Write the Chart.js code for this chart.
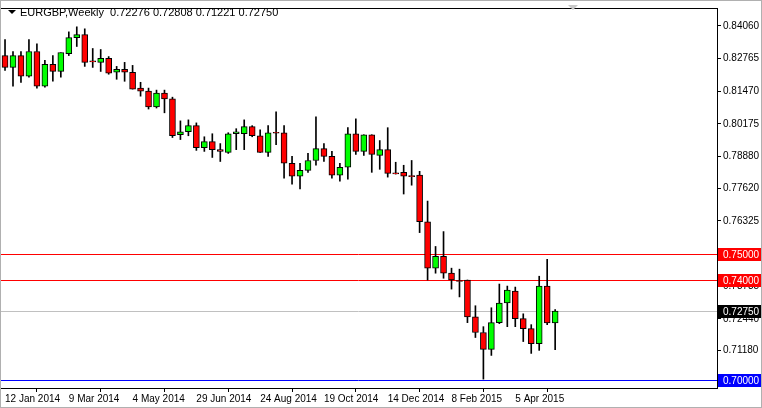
<!DOCTYPE html>
<html><head><meta charset="utf-8">
<script src="https://cdn.jsdelivr.net/npm/chart.js@4"></script>
<style>html,body{margin:0;padding:0;background:#fff}canvas{display:block}</style>
</head><body>
<canvas id="c" width="762" height="408"></canvas>
<script>
const opens  = [.8288,.8241,.8288,.8206,.8304,.8167,.8253,.8225,.8296,.8359,.8371,.8265,.8261,.8277,.8222,.8233,.8222,.8159,.8147,.8084,.8139,.8116,.7974,.7986,.8010,.7923,.7947,.7915,.7904,.7978,.7978,.8006,.7970,.7904,.7982,.7982,.7861,.7810,.7833,.7872,.7919,.7888,.7814,.7845,.7978,.7908,.7974,.7892,.7915,.7821,.7825,.7810,.7814,.7629,.7445,.7492,.7425,.7394,.7398,.7252,.7190,.7123,.7229,.7307,.7354,.7245,.7205,.7146,.7374,.72276];
const highs  = [.8351,.8304,.8304,.8351,.8335,.8269,.8288,.8300,.8382,.8402,.8394,.8316,.8312,.8284,.8245,.8261,.8249,.8182,.8159,.8151,.8151,.8123,.8029,.8033,.8021,.7966,.7978,.7939,.7982,.7998,.8033,.8010,.7994,.8010,.8065,.8010,.7888,.7861,.7900,.8045,.7939,.7908,.7861,.8002,.8037,.7974,.7974,.7951,.8002,.7865,.7853,.7872,.7829,.7711,.7531,.7590,.7445,.7441,.7398,.7296,.7213,.7288,.7382,.7374,.7370,.7264,.7221,.7413,.7480,.72808];
const lows   = [.8229,.8167,.8182,.8202,.8159,.8163,.8186,.8202,.8288,.8324,.8245,.8241,.8225,.8214,.8194,.8186,.8155,.8127,.8076,.8080,.8061,.7963,.7955,.7970,.7912,.7908,.7884,.7868,.7900,.7915,.7915,.7966,.7904,.7888,.7935,.7802,.7778,.7759,.7825,.7853,.7868,.7802,.7790,.7798,.7896,.7892,.7825,.7837,.7806,.7818,.7739,.7774,.7586,.7398,.7425,.7405,.7362,.7331,.7229,.7170,.7005,.7099,.7225,.7213,.7213,.7154,.7107,.7119,.7221,.71221];
const closes = [.8241,.8288,.8206,.8304,.8167,.8253,.8225,.8300,.8359,.8371,.8261,.8263,.8277,.8218,.8233,.8222,.8155,.8147,.8084,.8139,.8116,.7970,.7986,.8010,.7923,.7947,.7915,.7908,.7978,.7986,.8006,.7970,.7904,.7982,.7980,.7861,.7810,.7833,.7872,.7919,.7888,.7814,.7845,.7978,.7908,.7974,.7896,.7915,.7821,.7819,.7810,.7808,.7629,.7445,.7492,.7425,.7398,.7392,.7252,.7190,.7123,.7229,.7307,.7358,.7245,.7205,.7146,.7374,.7228,.72750];
const xLabels = ["12 Jan 2014","9 Mar 2014","4 May 2014","29 Jun 2014","24 Aug 2014","19 Oct 2014","14 Dec 2014","8 Feb 2015","5 Apr 2015"];
const yTicks = [0.84060,0.82765,0.81470,0.80175,0.78880,0.77620,0.76325,0.73735,0.72440,0.71180];
const levels = [{v:0.75,c:'#ff0000',box:'#ff0000'},{v:0.74,c:'#ff0000',box:'#ff0000'},{v:0.7275,c:'#c0c0c0',box:'#000000'},{v:0.70,c:'#0000ff',box:'#0000ff'}];
const title = "EURGBP,Weekly  0.72276 0.72808 0.71221 0.72750";
const FONT = '10px "Liberation Sans", Arial, sans-serif';

const bodies = opens.map((o,i)=>({x:i,y:[o,closes[i]]}));
const upperWicks = opens.map((o,i)=>({x:i,y:[Math.max(o,closes[i]),highs[i]]}));
const lowerWicks = opens.map((o,i)=>({x:i,y:[lows[i],Math.min(o,closes[i])]}));
const bodyColors = opens.map((o,i)=> closes[i]>=o ? '#00ff00' : '#ff0000');

const overlay = {
  id:'overlay',
  beforeDatasetsDraw(chart){
    const {ctx, chartArea:a, scales:{y}} = chart;
    ctx.save();
    levels.forEach(l=>{
      const py = Math.round(y.getPixelForValue(l.v))+0.5;
      ctx.strokeStyle=l.c; ctx.lineWidth=1;
      ctx.beginPath(); ctx.moveTo(a.left,py); ctx.lineTo(a.right,py); ctx.stroke();
    });
    ctx.restore();
  },
  afterDraw(chart){
    const {ctx, chartArea:a, scales:{y}} = chart;
    ctx.save();
    ctx.strokeStyle='#000'; ctx.lineWidth=1;
    ctx.strokeRect(a.left+0.5,a.top+0.5,a.right-a.left,a.bottom-a.top);
    ctx.font=FONT; ctx.textBaseline='middle';
    levels.forEach(l=>{
      const py = Math.round(y.getPixelForValue(l.v));
      ctx.fillStyle=l.box; ctx.fillRect(a.right+1,py-6,43,13);
      ctx.fillStyle='#fff'; ctx.textAlign='left';
      ctx.fillText(l.v.toFixed(5), a.right+6, py+1);
    });
    ctx.fillStyle='#000'; ctx.textAlign='left';
    ctx.beginPath(); ctx.moveTo(8,10); ctx.lineTo(16,10); ctx.lineTo(12,14); ctx.closePath(); ctx.fill();
    ctx.font='11px "Liberation Sans", Arial, sans-serif';
    ctx.fillText(title, 20, 13);
    ctx.fillStyle='#c8c8c8';
    ctx.beginPath(); ctx.moveTo(568,5); ctx.lineTo(578,5); ctx.lineTo(573,10); ctx.closePath(); ctx.fill();
    ctx.strokeStyle='#b0b0b0'; ctx.strokeRect(0.5,0.5,761,407);
    ctx.restore();
  }
};

new Chart(document.getElementById('c'),{
  type:'bar',
  data:{datasets:[
    {data:bodies, order:0, backgroundColor:bodyColors, borderColor:'#000', borderWidth:1, borderSkipped:false, barThickness:6, grouped:false, minBarLength:1},
    {data:upperWicks, order:1, backgroundColor:'#000', borderWidth:0, barThickness:1, grouped:false},
    {data:lowerWicks, order:2, backgroundColor:'#000', borderWidth:0, barThickness:1, grouped:false}
  ]},
  options:{
    responsive:false, animation:false, devicePixelRatio:1,
    layout:{padding:{top:4,left:0,right:0,bottom:0}},
    plugins:{legend:{display:false},tooltip:{enabled:false}},
    scales:{
      x:{type:'linear', min:-0.63, max:89.3, offset:false,
        afterBuildTicks(s){s.ticks=xLabels.map((t,i)=>({value:i*8}));},
        afterFit(s){s.height=20;},
        ticks:{align:'start', maxRotation:0, autoSkip:false, font:{family:'"Liberation Sans", Arial', size:10}, color:'#000', padding:1,
          callback:(v)=>xLabels[v/8]},
        grid:{drawOnChartArea:false, tickLength:4, color:'#000'}, border:{display:false}},
      y:{position:'right', min:0.69698, max:0.84766,
        afterBuildTicks(s){s.ticks=yTicks.map(v=>({value:v}));},
        afterFit(s){s.width=45;},
        ticks:{font:{family:'"Liberation Sans", Arial', size:10}, color:'#000', padding:2, callback:v=>v.toFixed(5)},
        grid:{drawOnChartArea:false, tickLength:4, color:'#000'}, border:{display:false}}
    }
  },
  plugins:[overlay]
});
</script>
</body></html>
